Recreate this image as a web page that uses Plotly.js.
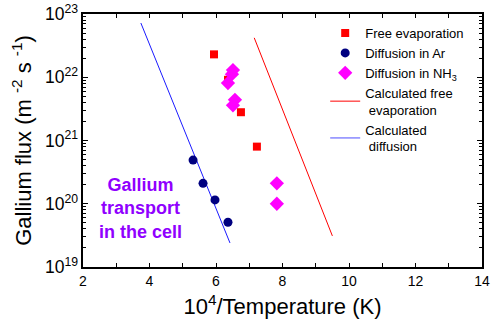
<!DOCTYPE html>
<html>
<head>
<meta charset="utf-8">
<script src="https://cdn.plot.ly/plotly-3.0.1.min.js"></script>
<style>
  html, body { margin: 0; padding: 0; background: #fff; }
  #chart { width: 493px; height: 334px; }
</style>
</head>
<body>
<div id="chart"></div>
<script>
// Measured gallium flux versus inverse temperature
const freeEvapX = [5.94, 6.36, 6.75, 7.23];
const freeEvapY = [2.3e22, 9.1e21, 2.8e21, 8.0e20];

const diffArX = [5.31, 5.61, 5.97, 6.36];
const diffArY = [4.9e20, 2.1e20, 1.15e20, 5.1e19];

const diffNH3X = [6.51, 6.48, 6.36, 6.57, 6.51, 7.83, 7.83];
const diffNH3Y = [1.3e22, 1.12e22, 8.1e21, 4.4e21, 3.6e21, 2.1e20, 1.0e20];

// Model curves
const calcFreeX = [7.15, 9.50];
const calcFreeY = [4.2e22, 3.1e19];

const calcDiffX = [3.74, 6.42];
const calcDiffY = [7.2e22, 2.4e19];

const seriesNames = [
  'Free evaporation',
  'Diffusion in Ar',
  'Diffusion in NH<sub>3</sub>',
  'Calculated free<br>\u00a0evaporation',
  'Calculated<br>\u00a0diffusion'
];

const xTicks = [2, 4, 6, 8, 10, 12, 14];

const font = 'Arial, "Liberation Sans", sans-serif';

const traces = [
  {
    x: calcFreeX, y: calcFreeY, mode: 'lines', name: seriesNames[3],
    line: { color: '#ff0000', width: 1 }, showlegend: false
  },
  {
    x: calcDiffX, y: calcDiffY, mode: 'lines', name: seriesNames[4],
    line: { color: '#1a1aff', width: 1 }, showlegend: false
  },
  {
    x: freeEvapX, y: freeEvapY, mode: 'markers', name: seriesNames[0],
    marker: { symbol: 'square', size: 8, color: '#ff0000' }
  },
  {
    x: diffArX, y: diffArY, mode: 'markers', name: seriesNames[1],
    marker: { symbol: 'circle', size: 9, color: '#000080' }
  },
  {
    x: diffNH3X, y: diffNH3Y, mode: 'markers', name: seriesNames[2],
    marker: { symbol: 'diamond', size: 11, color: '#ff00ff' }
  },
  // legend-only copies so the line entries follow the markers
  {
    x: [null], y: [null], mode: 'lines', name: seriesNames[3],
    line: { color: '#ff0000', width: 1 }
  },
  {
    x: [null], y: [null], mode: 'lines', name: seriesNames[4],
    line: { color: '#4d4dff', width: 1 }
  }
];

const layout = {
  width: 493, height: 334,
  margin: { l: 83, r: 11, t: 14, b: 67 },
  paper_bgcolor: '#fff', plot_bgcolor: '#fff',
  font: { family: font, color: '#000', size: 14 },
  showlegend: true,
  legend: {
    x: 0.607, y: 0.984, xanchor: 'left', yanchor: 'top',
    bgcolor: 'rgba(0,0,0,0)', borderwidth: 0,
    font: { family: font, size: 13, color: '#000' },
    tracegroupgap: 0
  },
  xaxis: {
    range: [2, 14], tickvals: xTicks, ticktext: xTicks.map(String),
    ticks: 'inside', ticklen: 4, tickwidth: 1, tickcolor: '#000',
    minor: { dtick: 1, ticks: 'inside', ticklen: 4, tickcolor: '#000' },
    showline: true, linewidth: 2, linecolor: '#000', mirror: 'allticks',
    showgrid: false, zeroline: false,
    tickfont: { family: font, size: 14 },
    title: { text: '10<sup>4</sup>/Temperature (K)', font: { family: font, size: 22 }, standoff: 11 }
  },
  yaxis: {
    type: 'log', range: [19, 23], dtick: 1, exponentformat: 'power',
    ticks: 'inside', ticklen: 5, tickwidth: 1, tickcolor: '#000',
    minor: { ticks: 'inside', ticklen: 3, tickcolor: '#000' },
    showline: true, linewidth: 2, linecolor: '#000', mirror: 'allticks',
    showgrid: false, zeroline: false,
    tickfont: { family: font, size: 14 },
    title: { text: 'Gallium flux (m <sup>-2</sup> s <sup>-1</sup>)', font: { family: font, size: 22 }, standoff: 7 }
  },
  annotations: [
    {
      xref: 'paper', yref: 'paper', x: 0.143, y: 0.233,
      xanchor: 'center', yanchor: 'middle',
      text: '<b>Gallium<br>transport<br>in the cell</b>',
      showarrow: false, align: 'center',
      font: { family: font, size: 18, color: '#9000ff' }
    }
  ]
};

Plotly.newPlot('chart', traces, layout, { displayModeBar: false, staticPlot: true });
</script>
</body>
</html>
